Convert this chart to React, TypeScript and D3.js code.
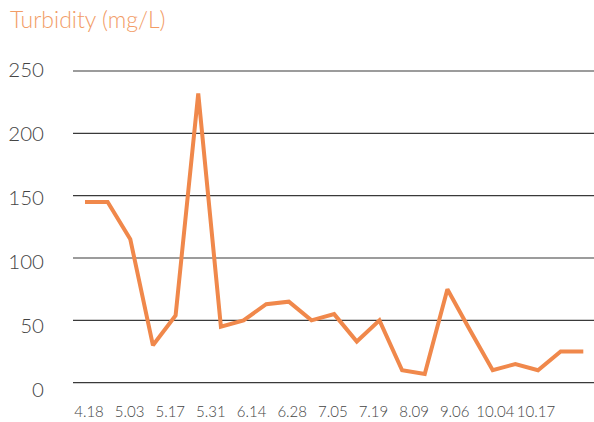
import React from "react";
import * as d3 from "d3";

const values: number[] = [145, 145, 115, 30, 54, 232, 45, 50, 63, 65, 50, 55, 33, 50, 10, 7, 75, 42, 10, 15, 10, 25, 25];
const xLabels: string[] = ["4.18", "5.03", "5.17", "5.31", "6.14", "6.28", "7.05", "7.19", "8.09", "9.06", "10.04", "10.17"];
const yTicks: number[] = [0, 50, 100, 150, 200, 250];
const title = "Turbidity (mg/L)";

const W = 594;
const H = 422;
const FONT = "Lato, 'Open Sans', sans-serif";

export default function App() {
  const x = d3.scaleLinear().domain([0, values.length - 1]).range([85, 583.3]);
  const y = d3.scaleLinear().domain([0, 250]).range([382.7, 71]);
  const yLab = d3.scaleLinear().domain([0, 250]).range([389, 69]);
  const xLab = d3.scalePoint<string>().domain(xLabels).range([89, 536]);
  const line = d3
    .line<number>()
    .x((_, i) => x(i))
    .y((d) => y(d))
    .curve(d3.curveLinear);

  return (
    <svg
      width={W}
      height={H}
      style={{ position: "absolute", left: 0, top: 0, background: "#fff" }}
    >
      <text x={10} y={28} fontFamily={FONT} fontSize={23} fill="#F29C66" fontWeight={300}>
        {title}
      </text>
      {yTicks.map((t) => (
        <g key={t}>
          <line x1={73} x2={594} y1={y(t)} y2={y(t)} stroke="#3a3a3a" strokeWidth={1.2} />
          <text
            x={44}
            y={yLab(t)}
            textAnchor="end"
            dominantBaseline="central"
            fontFamily={FONT}
            fontSize={20.5}
            fill="#444"
            fontWeight={300}
          >
            {t}
          </text>
        </g>
      ))}
      {xLabels.map((l) => (
        <text
          key={l}
          x={xLab(l)}
          y={417}
          textAnchor="middle"
          fontFamily={FONT}
          fontSize={15}
          fill="#444"
          fontWeight={300}
        >
          {l}
        </text>
      ))}
      <path d={line(values) || ""} fill="none" stroke="#F0884B" strokeWidth={4} strokeLinejoin="miter" strokeMiterlimit={2} />
    </svg>
  );
}
